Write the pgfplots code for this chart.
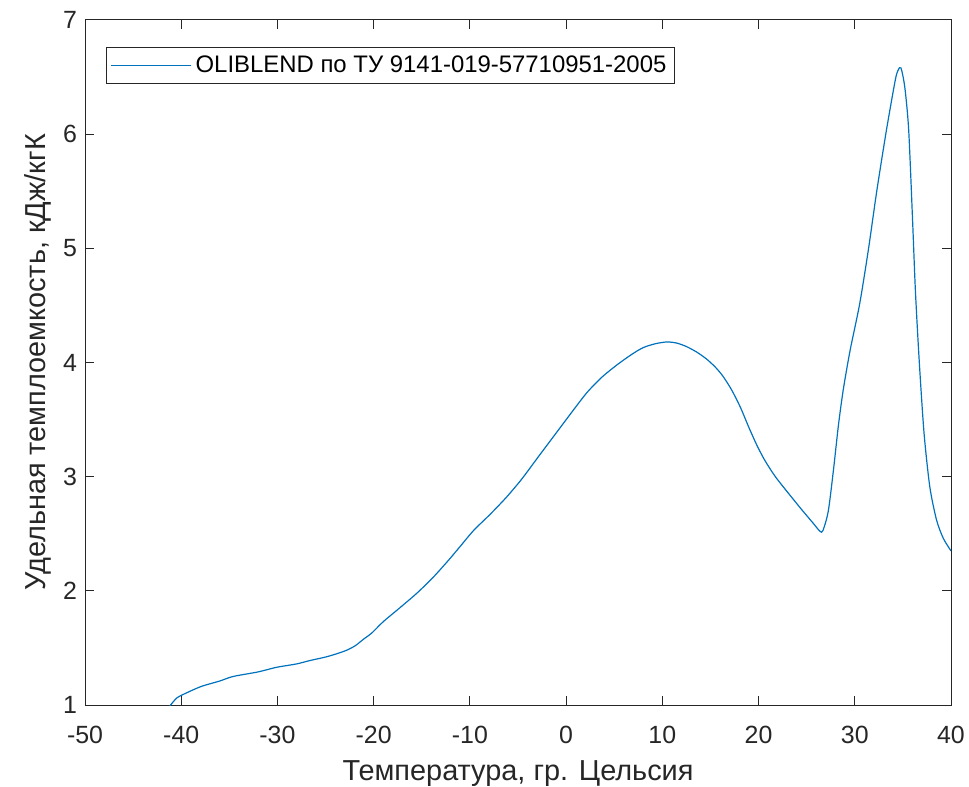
\documentclass[border=0pt]{standalone}
\usepackage{fontspec}
\setmainfont{Liberation Sans}
\usepackage{pgfplots}
\pgfplotsset{compat=1.18}
\definecolor{mblue}{RGB}{0,114,189}
\definecolor{mgray}{RGB}{38,38,38}
\begin{document}
\begin{tikzpicture}
\useasboundingbox (-42.5bp,-41bp) rectangle (442bp,352.5bp);
\begin{axis}[
    at={(0,0)}, anchor=south west,
    width=433bp, height=342.5bp, scale only axis,
    xmin=-50, xmax=40, ymin=1, ymax=7,
    xtick={-50,-40,...,40}, ytick={1,...,7},
    tick align=inside, major tick length=4.5bp,
    axis line style={mgray, line width=0.5bp},
    every tick/.style={mgray, line width=0.5bp},
    tick label style={font=\fontsize{12.5}{14}\selectfont, text=mgray},
    xticklabel style={yshift=-7bp},
    yticklabel style={xshift=-0.5bp},
    label style={font=\fontsize{14.5}{16}\selectfont, text=mgray},
    /pgf/number format/assume math mode=true,
    xlabel={Температура, гр. Цельсия},
    ylabel={Удельная темплоемкость, кДж/кгК},
    xlabel style={yshift=-1.5bp},
    ylabel style={yshift=-1bp},
    legend cell align=left,
    legend style={at={(0.0242,0.9606)}, anchor=north west, draw=mgray,
        line width=0.5bp, font=\fontsize{12}{13.5}\selectfont, text=black,
        inner xsep=2bp, inner ysep=2bp},
    legend image code/.code={\draw[#1] (0bp,0bp) -- (40bp,0bp);},
]
\addplot[mblue, line width=0.6bp, smooth, tension=0.45] coordinates {
(-41.3,0.98)(-40.6,1.05)(-40.1,1.08)(-38.0,1.16)(-36.0,1.21)(-34.6,1.25)
(-32.0,1.29)(-30.1,1.33)(-28.0,1.36)(-26.6,1.39)(-25.0,1.42)(-23.8,1.45)
(-22.8,1.48)(-21.9,1.52)(-21.0,1.58)(-20.2,1.63)(-19.0,1.73)(-17.3,1.85)(-15.5,1.98)
(-13.8,2.12)(-12.2,2.27)(-11.0,2.39)(-9.6,2.53)(-7.9,2.67)(-6.2,2.82)
(-4.6,2.98)(-3.1,3.15)(-1.5,3.33)(0.1,3.51)(2.1,3.73)(3.7,3.87)
(5.3,3.98)(6.8,4.07)(8.0,4.13)(9.3,4.165)(10.5,4.18)(11.5,4.17)(12.5,4.14)
(13.6,4.09)(14.6,4.03)(15.5,3.96)(16.3,3.88)(17.2,3.76)(18.1,3.61)(19.0,3.43)
(19.8,3.28)(20.6,3.15)(21.5,3.03)(22.2,2.95)
(24.3,2.73)(25.7,2.59)(26.4,2.52)(26.7,2.53)(27.25,2.70)(27.8,3.07)
(28.3,3.45)(28.8,3.76)(29.5,4.10)(30.5,4.51)(31.4,4.98)(32.3,5.51)
(33.3,6.04)(34.2,6.47)(34.5,6.56)(34.8,6.58)(35.2,6.41)(35.6,6.04)
(36.0,5.26)(36.3,4.63)(36.7,4.01)(37.2,3.38)(37.8,2.91)(38.5,2.62)
(39.2,2.46)(40.0,2.35)
};
\addlegendentry{OLIBLEND по ТУ 9141-019-57710951-2005}
\end{axis}
\end{tikzpicture}
\end{document}
